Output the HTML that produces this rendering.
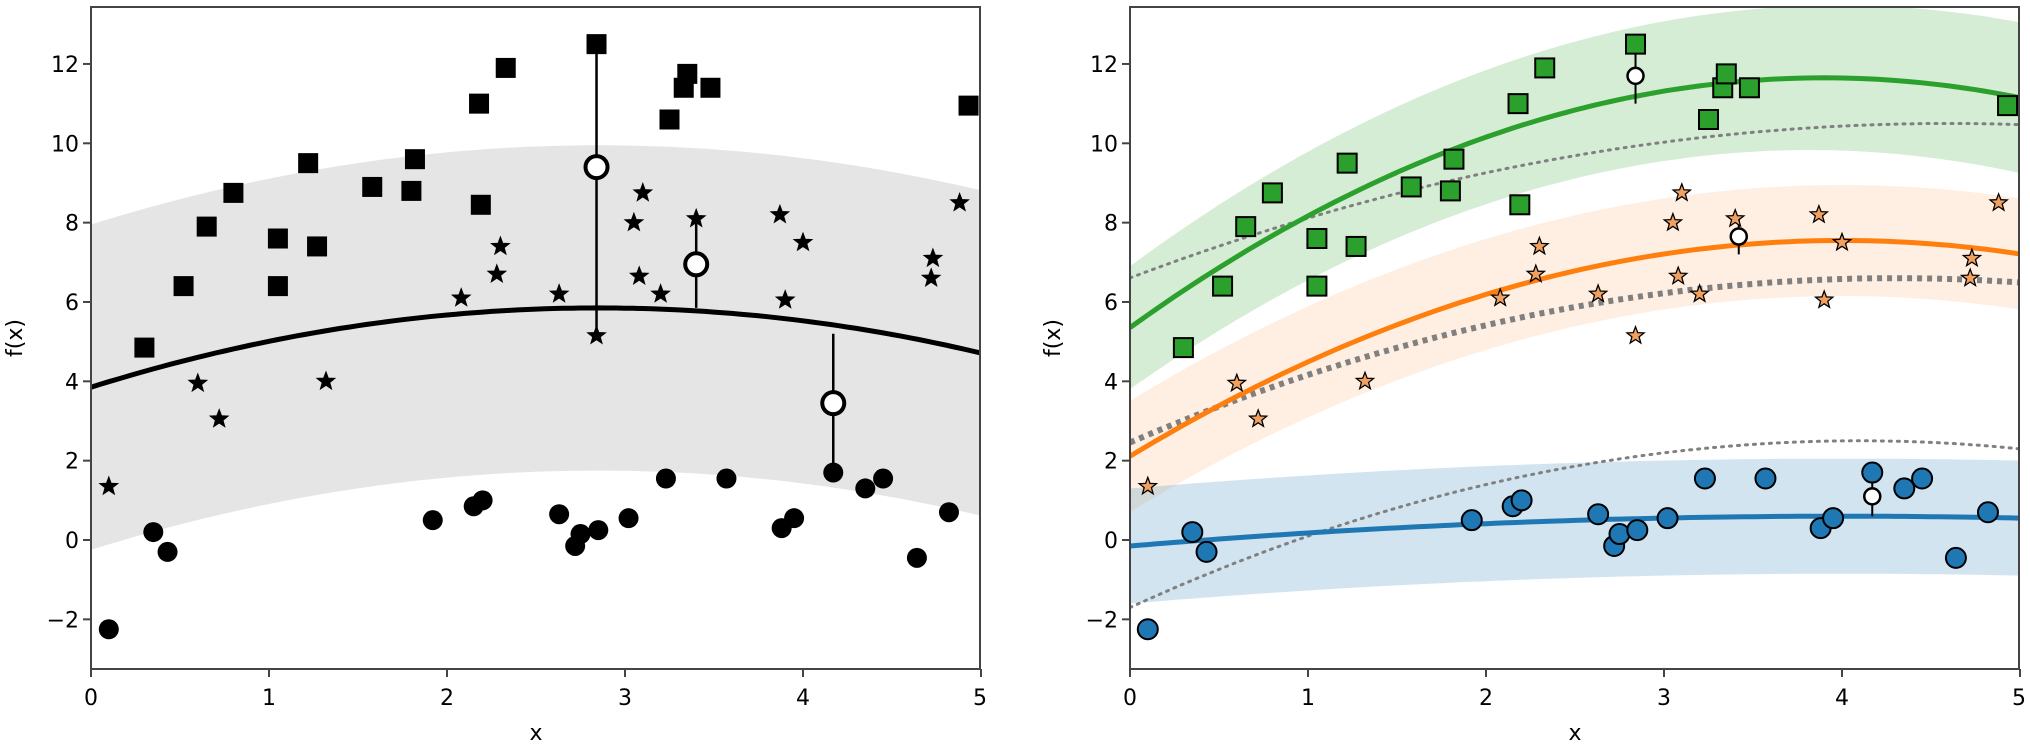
<!DOCTYPE html>
<html><head><meta charset="utf-8"><style>
html,body{margin:0;padding:0;background:#fff;}
svg{display:block;font-family:"DejaVu Sans","Liberation Sans",sans-serif;}
</style></head><body>
<svg id="s" width="2030" height="744" xmlns="http://www.w3.org/2000/svg">
<g font-size="22" fill="#000">
<text x="91" y="705" text-anchor="middle">0</text><text x="269" y="705" text-anchor="middle">1</text><text x="447" y="705" text-anchor="middle">2</text><text x="625" y="705" text-anchor="middle">3</text><text x="803" y="705" text-anchor="middle">4</text><text x="980" y="705" text-anchor="middle">5</text>
<text x="1130" y="705" text-anchor="middle">0</text><text x="1308" y="705" text-anchor="middle">1</text><text x="1486" y="705" text-anchor="middle">2</text><text x="1664" y="705" text-anchor="middle">3</text><text x="1842" y="705" text-anchor="middle">4</text><text x="2019" y="705" text-anchor="middle">5</text>
<text x="536" y="740" text-anchor="middle">x</text><text x="1575" y="740" text-anchor="middle">x</text>
<text transform="translate(22,338) rotate(-90)" text-anchor="middle">f(x)</text>
<text transform="translate(1060,338) rotate(-90)" text-anchor="middle">f(x)</text>
</g>
<g id="yt" font-size="22" text-anchor="end"></g>
</svg>
<script>
const S=document.getElementById('s'),NS='http://www.w3.org/2000/svg';
function el(t,a,p){const e=document.createElementNS(NS,t);for(const k in a)e.setAttribute(k,a[k]);(p||S).appendChild(e);return e;}
const Y=y=>540-39.67*y;
const sq=[[0.3,4.85],[0.52,6.4],[0.65,7.9],[0.8,8.75],[1.05,6.4],[1.05,7.6],[1.22,9.5],[1.27,7.4],[1.58,8.9],[1.8,8.8],[1.82,9.6],[2.18,11.0],[2.19,8.45],[2.33,11.9],[2.84,12.5],[3.25,10.6],[3.33,11.4],[3.35,11.75],[3.48,11.4],[4.93,10.95]];
const st=[[0.1,1.35],[0.6,3.95],[0.72,3.05],[1.32,4.0],[2.08,6.1],[2.28,6.7],[2.3,7.4],[2.63,6.2],[2.84,5.15],[3.05,8.0],[3.08,6.65],[3.1,8.75],[3.2,6.2],[3.4,8.1],[3.87,8.2],[3.9,6.05],[4.0,7.5],[4.72,6.6],[4.73,7.1],[4.88,8.5]];
const ci=[[0.1,-2.25],[0.35,0.2],[0.43,-0.3],[1.92,0.5],[2.15,0.85],[2.2,1.0],[2.63,0.65],[2.72,-0.15],[2.75,0.15],[2.85,0.25],[3.02,0.55],[3.23,1.55],[3.57,1.55],[3.88,0.3],[3.95,0.55],[4.17,1.7],[4.35,1.3],[4.45,1.55],[4.64,-0.45],[4.82,0.7]];
function star(cx,cy,R,f,s){let p=[];for(let i=0;i<10;i++){const r=i%2?R*0.42:R,a=-Math.PI/2+i*Math.PI/5;p.push((cx+r*Math.cos(a)).toFixed(1)+','+(cy+r*Math.sin(a)).toFixed(1));}
el('polygon',{points:p.join(' '),fill:f,stroke:s,'stroke-width':1.3,'stroke-linejoin':'miter'});}
function curve(X0,f){let p=[];for(let i=0;i<=100;i++){const x=i*0.05;p.push([X0+178*x,Y(f(x))]);}return p;}
function band(X0,f,w,col,op){const a=curve(X0,x=>f(x)+w(x)),b=curve(X0,x=>f(x)-w(x)).reverse();
el('path',{d:'M'+a.concat(b).map(q=>q[0].toFixed(1)+','+q[1].toFixed(1)).join('L')+'Z',fill:col,'fill-opacity':op});}
function line(X0,f,a){el('path',Object.assign({d:'M'+curve(X0,f).map(q=>q[0].toFixed(1)+','+q[1].toFixed(1)).join('L'),fill:'none'},a));}
// clip
const d=el('defs',{});const c1=el('clipPath',{id:'c1'},d);el('rect',{x:91,y:7,width:889,height:662},c1);
const c2=el('clipPath',{id:'c2'},d);el('rect',{x:1130,y:7,width:889,height:662},c2);
// LEFT
let g=el('g',{'clip-path':'url(#c1)'});let P=S;S.appendChild(g);
const fl=x=>5.85-0.246*(x-2.85)**2;
(function(){const o=S;window.S2=g;})();
function withG(gg,fn){const old=S.appendChild;fn(gg);}
const Lx=x=>91+178*x;
function E(t,a){return el(t,a,curG);}
var curG=g;
function bandG(X0,f,w,col,op){const a=curve(X0,x=>f(x)+w(x)),b=curve(X0,x=>f(x)-w(x)).reverse();
E('path',{d:'M'+a.concat(b).map(q=>q[0].toFixed(1)+','+q[1].toFixed(1)).join('L')+'Z',fill:col,'fill-opacity':op});}
function lineG(X0,f,a){E('path',Object.assign({d:'M'+curve(X0,f).map(q=>q[0].toFixed(1)+','+q[1].toFixed(1)).join('L'),fill:'none'},a));}
function starG(cx,cy,R,f,s){let p=[];for(let i=0;i<10;i++){const r=i%2?R*0.42:R,a=-Math.PI/2+i*Math.PI/5;p.push((cx+r*Math.cos(a)).toFixed(1)+','+(cy+r*Math.sin(a)).toFixed(1));}
E('polygon',{points:p.join(' '),fill:f,stroke:s,'stroke-width':1.3});}
bandG(91,fl,x=>4.1,'#d3d3d3',0.6);
lineG(91,fl,{stroke:'#000','stroke-width':5});
[[2.84,12.5,5.15,9.4],[3.4,8.1,5.85,6.95],[4.17,5.2,1.7,3.45]].forEach(v=>E('line',{x1:Lx(v[0]),x2:Lx(v[0]),y1:Y(v[1]),y2:Y(v[2]),stroke:'#000','stroke-width':2.5}));
sq.forEach(p=>E('rect',{x:Lx(p[0])-10,y:Y(p[1])-10,width:20,height:20,fill:'#000'}));
st.forEach(p=>starG(Lx(p[0]),Y(p[1]),9,'#000','#000'));
ci.forEach(p=>E('circle',{cx:Lx(p[0]),cy:Y(p[1]),r:10,fill:'#000'}));
[[2.84,9.4],[3.4,6.95],[4.17,3.45]].forEach(p=>E('circle',{cx:Lx(p[0]),cy:Y(p[1]),r:11,fill:'#fff',stroke:'#000','stroke-width':4}));
// RIGHT
curG=el('g',{'clip-path':'url(#c2)'});
const Rx=x=>1130+178*x;
const fg=x=>11.65-0.414*(x-3.9)**2, fgd=x=>10.5-0.184*(x-4.6)**2;
const fo=x=>7.55-0.34*(x-4)**2, fod=x=>6.6-0.224*(x-4.3)**2;
const fb=x=>0.6-0.047*(x-4)**2, fbd=x=>2.5-0.25*(x-4.1)**2;
bandG(1130,fg,x=>1.55+0.07*x,'#2ca02c',0.2);
bandG(1130,fo,x=>1.4,'#ff7f0e',0.12);
bandG(1130,fb,x=>1.45,'#1f77b4',0.2);
lineG(1130,fgd,{stroke:'#808080','stroke-width':3,'stroke-dasharray':'2 6','stroke-linecap':'round'});
lineG(1130,fod,{stroke:'#808080','stroke-width':6,'stroke-dasharray':'5 5'});
lineG(1130,fbd,{stroke:'#808080','stroke-width':3,'stroke-dasharray':'2 6','stroke-linecap':'round'});
lineG(1130,fg,{stroke:'#2ca02c','stroke-width':5});
lineG(1130,fo,{stroke:'#ff7f0e','stroke-width':5});
lineG(1130,fb,{stroke:'#1f77b4','stroke-width':5});
[[2.84,12.5,11.0],[3.42,8.1,7.2],[4.17,1.7,0.6]].forEach(v=>E('line',{x1:Rx(v[0]),x2:Rx(v[0]),y1:Y(v[1]),y2:Y(v[2]),stroke:'#000','stroke-width':2}));
sq.forEach(p=>E('rect',{x:Rx(p[0])-9.5,y:Y(p[1])-9.5,width:19,height:19,fill:'#2ca02c',stroke:'#000','stroke-width':2}));
st.forEach(p=>starG(Rx(p[0]),Y(p[1]),9,'#f0a060','#000'));
ci.forEach(p=>E('circle',{cx:Rx(p[0]),cy:Y(p[1]),r:10,fill:'#1f77b4',stroke:'#000','stroke-width':2}));
[[2.84,11.7],[3.42,7.65],[4.17,1.1]].forEach(p=>E('circle',{cx:Rx(p[0]),cy:Y(p[1]),r:8,fill:'#fff',stroke:'#000','stroke-width':2.5}));
// frames & ticks
curG=S;
[91,1130].forEach(X0=>{
E('rect',{x:X0,y:7,width:889,height:662,fill:'none',stroke:'#444','stroke-width':2});
for(let i=0;i<=5;i++)E('line',{x1:X0+178*i,x2:X0+178*i,y1:669,y2:677,stroke:'#444','stroke-width':2});
for(let v=-2;v<=12;v+=2)E('line',{x1:X0,x2:X0-8,y1:Y(v),y2:Y(v),stroke:'#444','stroke-width':2});
});
const yt=document.getElementById('yt');
[91,1130].forEach(X0=>{for(let v=-2;v<=12;v+=2){const t=el('text',{x:X0-12,y:Y(v)+8},yt);t.textContent=(v<0?'\u2212'+(-v):v);}});
</script>
</body></html>
